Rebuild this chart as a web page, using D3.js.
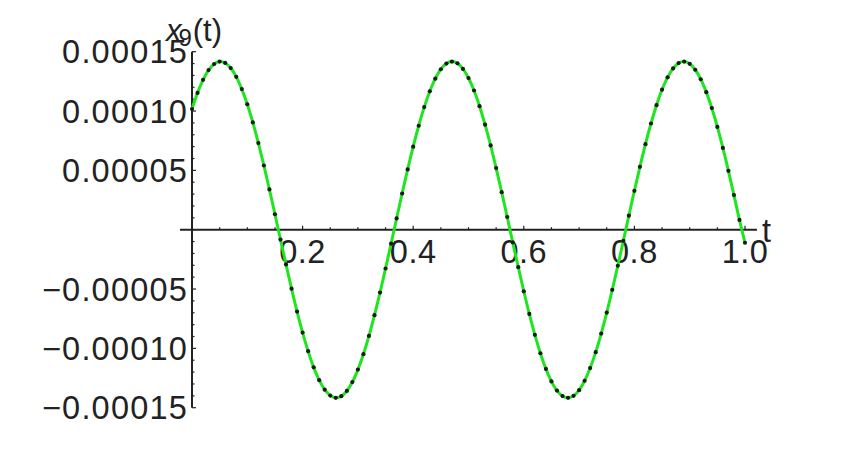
<!DOCTYPE html>
<html>
<head>
<meta charset="utf-8">
<script src="https://cdn.jsdelivr.net/npm/d3@7"></script>
<style>
  body { margin: 0; background: #fff; }
  text { font-family: "Liberation Sans", Arial, sans-serif; fill: #222; }
</style>
</head>
<body>
<div class="chart"></div>
<script>
// sample times t = 0, 0.01, ..., 1.0
let tValues = d3.range(0, 101).map((k) => k / 100)
// x9(t), in units of 1e-5
let xValues = [
  10.17, 11.53, 12.63, 13.45, 13.96, 14.17, 14.05, 13.62, 12.88, 11.85,
  10.57, 9.04, 7.30, 5.41, 3.39, 1.30, -0.83, -2.93, -4.97, -6.90,
  -8.67, -10.24, -11.60, -12.68, -13.48, -13.98, -14.17, -14.03, -13.59, -12.84,
  -11.79, -10.49, -8.95, -7.20, -5.30, -3.27, -1.18, 0.95, 3.05, 5.08,
  7.00, 8.76, 10.33, 11.66, 12.73, 13.52, 14.00, 14.17, 14.02, 13.55,
  12.78, 11.73, 10.41, 8.85, 7.10, 5.19, 3.16, 1.07, -1.07, -3.16,
  -5.19, -7.10, -8.86, -10.41, -11.73, -12.79, -13.56, -14.02, -14.17, -14.00,
  -13.52, -12.73, -11.66, -10.32, -8.75, -6.98, -5.07, -3.04, -0.94, 1.18,
  3.28, 5.30, 7.21, 8.95, 10.49, 11.80, 12.84, 13.59, 14.04, 14.17,
  13.98, 13.48, 12.68, 11.59, 10.25, 8.66, 6.89, 4.96, 2.92, 0.82,
  -1.10
]
let xTicks = [0.2, 0.4, 0.6, 0.8, 1.0]
let xMinorTicks = d3.range(1, 21).map((k) => k * 0.05)
let yTicks = [-0.00015, -0.0001, -0.00005, 0.00005, 0.0001, 0.00015]
let yTickLabels = ["\u22120.00015", "\u22120.00010", "\u22120.00005", "0.00005", "0.00010", "0.00015"]
let yMinorTicks = d3.range(-15, 16).map((k) => k * 0.00001)

let width = 852, height = 449
let svg = d3.select(".chart")
  .append("svg")
  .attr("width", width)
  .attr("height", height)

let x = d3.scaleLinear().domain([0, 1]).range([192, 745])
let y = d3.scaleLinear().domain([-0.00015, 0.00015]).range([407.7, 51.7])

let points = tValues.map((t, i) => ({ t: t, v: xValues[i] * 1e-5 }))

//坐标轴
let axisColor = "#222"
svg.append("line")
  .attr("x1", 180).attr("x2", 757)
  .attr("y1", y(0)).attr("y2", y(0))
  .attr("stroke", axisColor).attr("stroke-width", 2)
svg.append("line")
  .attr("x1", x(0)).attr("x2", x(0))
  .attr("y1", y(0.00015)).attr("y2", y(-0.00015))
  .attr("stroke", axisColor).attr("stroke-width", 2)

// x ticks (upward)
svg.append("g")
  .selectAll("line")
  .data(xMinorTicks)
  .enter()
  .append("line")
  .attr("x1", (d) => x(d)).attr("x2", (d) => x(d))
  .attr("y1", y(0))
  .attr("y2", (d) => y(0) - (xTicks.some((m) => Math.abs(m - d) < 1e-9) ? 4 : 2.5))
  .attr("stroke", axisColor).attr("stroke-width", 1.2)

// y ticks (to the right)
svg.append("g")
  .selectAll("line")
  .data(yMinorTicks)
  .enter()
  .append("line")
  .attr("x1", x(0))
  .attr("x2", (d) => x(0) + (yTicks.some((m) => Math.abs(m - d) < 1e-12) ? 4 : 2.5))
  .attr("y1", (d) => y(d)).attr("y2", (d) => y(d))
  .attr("stroke", axisColor).attr("stroke-width", 1.2)

//刻度文字
let fontSize = 32.5
svg.append("g")
  .selectAll("text")
  .data(xTicks)
  .enter()
  .append("text")
  .attr("x", (d) => x(d))
  .attr("y", y(0) + 33)
  .attr("text-anchor", "middle")
  .attr("font-size", fontSize)
  .attr("letter-spacing", 0.5)
  .text((d) => d.toFixed(1))

svg.append("g")
  .selectAll("text")
  .data(yTicks)
  .enter()
  .append("text")
  .attr("x", x(0) - 4)
  .attr("y", (d) => y(d) + 11.5)
  .attr("text-anchor", "end")
  .attr("font-size", fontSize)
  .attr("letter-spacing", 1.2)
  .text((d, i) => yTickLabels[i])

// axis labels
svg.append("text")
  .attr("x", 762)
  .attr("y", y(0) + 12)
  .attr("font-size", fontSize)
  .text("t")

let yLabel = svg.append("text")
  .attr("x", x(0) + 2)
  .attr("y", 41)
  .attr("text-anchor", "middle")
  .attr("font-size", 31)
yLabel.append("tspan").attr("font-style", "italic").text("x")
yLabel.append("tspan").attr("font-size", 24).attr("dy", 5).attr("dx", -3).text("9")
yLabel.append("tspan").attr("dy", -5).attr("dx", 1).text("(t)")

//曲线
let line = d3.line()
  .x((d) => x(d.t))
  .y((d) => y(d.v))
  .curve(d3.curveCatmullRom)
svg.append("path")
  .datum(points)
  .attr("d", line)
  .attr("fill", "none")
  .attr("stroke", "#1ee61e")
  .attr("stroke-width", 3)

svg.append("g")
  .selectAll("circle")
  .data(points)
  .enter()
  .append("circle")
  .attr("cx", (d) => x(d.t))
  .attr("cy", (d) => y(d.v))
  .attr("r", 2.1)
  .attr("fill", "#1a1a1a")
</script>
</body>
</html>
